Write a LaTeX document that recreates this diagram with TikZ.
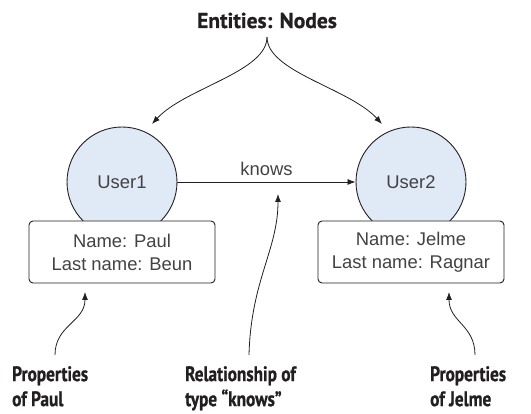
\documentclass[tikz,border=0pt]{standalone}
\usepackage{fontspec}
\setmainfont{Liberation Sans}
\newfontfamily\labfont[FakeStretch=0.82,FakeBold=0.8]{PT Sans}
\newfontfamily\titlefont[FakeStretch=1.0,FakeBold=0.8]{PT Sans}
\usetikzlibrary{arrows.meta}
\definecolor{nodefill}{RGB}{224,233,246}
\definecolor{ink}{RGB}{35,31,32}
\tikzset{
  entity/.style={circle, draw=ink, line width=0.9pt, fill=nodefill, minimum size=110pt, inner sep=0pt, font=\fontsize{18.4}{22}\selectfont, text=ink!85},
  propbox/.style={rectangle, rounded corners=4pt, draw=ink, line width=0.9pt, fill=white, minimum width=186pt, minimum height=62pt, inner sep=0pt, align=center, font=\fontsize{18.4}{23}\selectfont, text=ink!85},
  callout/.style={font=\labfont\bfseries\fontsize{21}{25}\selectfont, text=ink, inner sep=0pt, align=left},
  link/.style={draw=ink, line width=0.8pt, -{Latex[length=8pt,width=6pt]}}
}
\begin{document}
\begin{tikzpicture}[x=1pt,y=-1pt]
\useasboundingbox (0,0) rectangle (531,414);
% entities
\node[entity] (u1) at (122,182) {User1};
\node[entity] (u2) at (411,182) {User2};
\node[propbox] (p1) at (122,252) {Name: Paul\\Last name: Beun};
\node[propbox] (p2) at (411,252) {Name: Jelme\\Last name: Ragnar};
% relationship
\draw[link] (u1.east) -- node[above=6pt, font=\fontsize{18.4}{22}\selectfont, text=ink!85, inner sep=0pt] (kl) {knows} (u2.west);
% title
\node[callout, font=\titlefont\bfseries\fontsize{21.5}{26}\selectfont, anchor=base] (title) at (267,28) {Entities: Nodes};
\coordinate (br) at (267,37);
\coordinate (t1) at (152,124);
\coordinate (t2) at (382,124);
\draw[link] (br) .. controls (267,72) and (185,88) .. (t1);
\draw[link] (br) .. controls (267,72) and (349,88) .. (t2);
% callouts bottom
\node[callout, anchor=north west] (lp) at (12,366) {Properties\\of Paul};
\node[callout, anchor=north west] (lr) at (185,366) {Relationship of\\type \textquotedblleft knows\textquotedblright};
\node[callout, anchor=north west] (lj) at (430,366) {Properties\\of Jelme};
\coordinate (s1) at (55,355);
\coordinate (e1) at (85,292);
\coordinate (s2) at (249,355);
\coordinate (e2) at (278,194);
\coordinate (s3) at (475,355);
\coordinate (e3) at (449,292);
\draw[link] (s1) .. controls (55,325) and (85,322) .. (e1);
\draw[link] (s2) .. controls (251,280) and (278,250) .. (e2);
\draw[link] (s3) .. controls (475,325) and (449,322) .. (e3);
\end{tikzpicture}
\end{document}
